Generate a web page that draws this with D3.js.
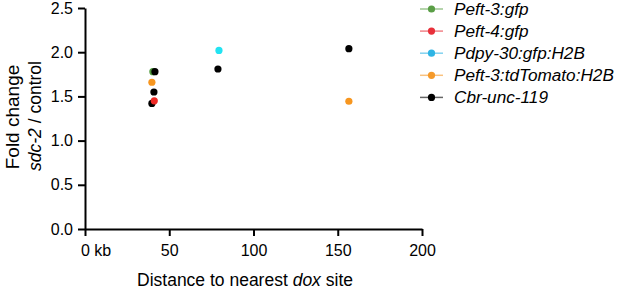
<!DOCTYPE html>
<html>
<head>
<meta charset="utf-8">
<script src="https://cdn.jsdelivr.net/npm/d3@7"></script>
<style>
  body { margin: 0; background: #fff; }
  svg { font-family: "Liberation Sans", Arial, sans-serif; }
</style>
</head>
<body>
<svg id="chart" width="617" height="289"></svg>
<script>
// series, in legend order
const seriesNames = ['Peft-3:gfp', 'Peft-4:gfp', 'Pdpy-30:gfp:H2B', 'Peft-3:tdTomato:H2B', 'Cbr-unc-119'];
const distances = [[40.3], [41.1], [79.5], [39.7, 156.6], [41.5, 40.9, 39.7, 78.9, 156.6]];
const foldChanges = [[1.78], [1.45], [2.02], [1.66, 1.445], [1.78, 1.55, 1.42, 1.81, 2.04]];
const xTicks = [0, 50, 100, 150, 200];
const yTicks = [0, 0.5, 1.0, 1.5, 2.0, 2.5];

const pointColors = ['#4f9a3d', '#ee2a26', '#22e3f2', '#f7961f', '#000000'];
const legendColors = ['#5a9e46', '#e8303a', '#2eb4e4', '#f59a2a', '#000000'];
const drawOrder = [0, 4, 1, 2, 3];

const svg = d3.select('#chart');

const x = d3.scaleLinear().domain([0, 200]).range([85, 422]);
const y = d3.scaleLinear().domain([0, 2.5]).range([229, 8]);

// y axis
const yAxis = svg.append('g')
    .attr('transform', `translate(${x(0)},0)`)
    .call(d3.axisLeft(y).tickValues(yTicks).tickFormat(d3.format('.1f')).tickSize(7).tickSizeOuter(0).tickPadding(5));

// x axis
const xAxis = svg.append('g')
    .attr('transform', `translate(0,${y(0)})`)
    .call(d3.axisBottom(x).tickValues(xTicks).tickSize(7).tickSizeOuter(0).tickPadding(9)
        .tickFormat(d => d === 0 ? '0 kb' : d));

[yAxis, xAxis].forEach(ax => {
    ax.select('.domain').attr('stroke', '#000').attr('stroke-width', 2);
    ax.selectAll('.tick line').attr('stroke', '#000').attr('stroke-width', 2);
    ax.selectAll('.tick text').attr('fill', '#000').style('font-size', '16px');
});

// "0 kb": keep the 0 centred on its tick
xAxis.selectAll('.tick text')
    .filter(d => d === 0)
    .attr('text-anchor', 'start')
    .attr('x', -4.5);

// axis titles
const xTitle = svg.append('text')
    .attr('x', 245)
    .attr('y', 286)
    .attr('text-anchor', 'middle')
    .style('font-size', '17.5px');
xTitle.append('tspan').text('Distance to nearest ');
xTitle.append('tspan').style('font-style', 'italic').text('dox');
xTitle.append('tspan').text(' site');

svg.append('text')
    .attr('transform', 'translate(19,117) rotate(-90)')
    .attr('text-anchor', 'middle')
    .style('font-size', '19px')
    .text('Fold change');

const yTitle2 = svg.append('text')
    .attr('transform', 'translate(41,116) rotate(-90)')
    .attr('text-anchor', 'middle')
    .style('font-size', '17.5px');
yTitle2.append('tspan').style('font-style', 'italic').text('sdc-2');
yTitle2.append('tspan').text(' / control');

// points
drawOrder.forEach(i => {
    svg.append('g')
        .selectAll('circle')
        .data(distances[i].map((d, j) => [d, foldChanges[i][j]]))
        .join('circle')
        .attr('cx', d => x(d[0]))
        .attr('cy', d => y(d[1]))
        .attr('r', 3.6)
        .attr('fill', pointColors[i]);
});

// legend
const legend = svg.append('g');
seriesNames.forEach((name, i) => {
    const ly = 9 + i * 22.1;
    legend.append('line')
        .attr('x1', 420).attr('x2', 443)
        .attr('y1', ly).attr('y2', ly)
        .attr('stroke', legendColors[i])
        .attr('stroke-opacity', 0.6)
        .attr('stroke-width', 1.5);
    legend.append('circle')
        .attr('cx', 431.5).attr('cy', ly)
        .attr('r', 3.6)
        .attr('fill', legendColors[i]);
    legend.append('text')
        .attr('x', 454)
        .attr('y', ly)
        .attr('dy', '0.35em')
        .style('font-size', '17.2px')
        .style('font-style', 'italic')
        .text(name);
});
</script>
</body>
</html>
